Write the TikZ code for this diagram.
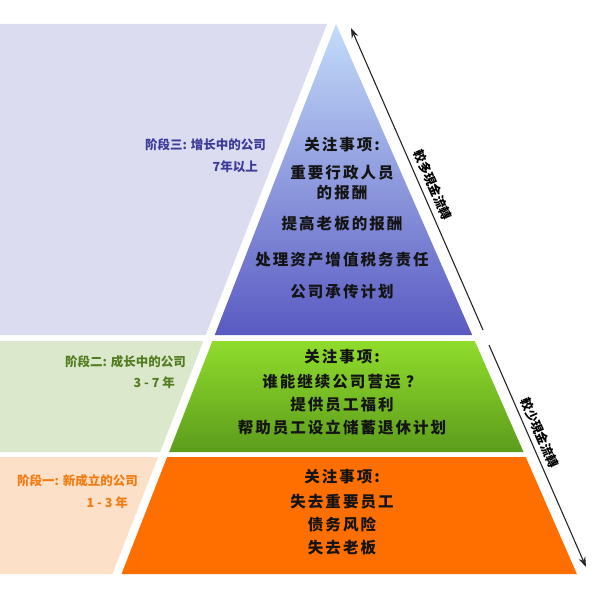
\documentclass[tikz,border=0pt]{standalone}
\usepackage{fontspec}
\usepackage{xcolor}
\usetikzlibrary{arrows.meta}
\newfontfamily\cjkband[LetterSpace=13]{Noto Sans CJK SC}
\newfontfamily\cjkstage{Noto Sans CJK SC}
\newfontfamily\cjkflow{Noto Sans CJK TC}

\definecolor{panelblue}{HTML}{DCDCF0}
\definecolor{panelgreen}{HTML}{DCE8CC}
\definecolor{panelorange}{HTML}{FDE0C8}
\definecolor{pyrblueTop}{HTML}{C4DCFA}
\definecolor{pyrblueMid}{HTML}{98AEE6}
\definecolor{pyrblueBot}{HTML}{5A5AC2}
\definecolor{pyrgreenTop}{HTML}{90DC2C}
\definecolor{pyrgreenBot}{HTML}{5C9C1C}
\definecolor{pyrorange}{HTML}{FF6F00}
\definecolor{stageblue}{HTML}{3B3B98}
\definecolor{stagegreen}{HTML}{537D22}
\definecolor{stageorange}{HTML}{F27C12}

\tikzset{
  bandtext/.style={font=\cjkband\bfseries\fontsize{15.5}{20}\selectfont, text=black!92, align=center, inner sep=0pt},
  stagelabel/.style={font=\cjkstage\bfseries\fontsize{12.5}{15}\selectfont, anchor=east, inner sep=0pt},
  flowlabel/.style={font=\cjkflow\bfseries\fontsize{12.5}{14}\selectfont, rotate=-66.4, inner sep=0pt},
  flowarrow/.style={-{Stealth[length=10pt,width=7pt]}, line width=1.1pt, black!85}
}

\begin{document}
\begin{tikzpicture}[x=1pt, y=-1pt]
  \useasboundingbox (0,0) rectangle (600,604);

  % stage panels on the left
  \fill[panelblue] (0,24) -- (327,24) -- (205.7,335) -- (0,335) -- cycle;
  \fill[panelgreen] (0,341) -- (203.4,341) -- (160.1,452) -- (0,452) -- cycle;
  \fill[panelorange] (0,457) -- (158.1,457) -- (112.5,574) -- (0,574) -- cycle;

  % pyramid
  \shade[top color=pyrblueTop, middle color=pyrblueMid, bottom color=pyrblueBot] (336,24) -- (472.2,335) -- (214.7,335) -- cycle;
  \shade[top color=pyrgreenTop, bottom color=pyrgreenBot] (212.4,341) -- (474.8,341) -- (523.5,452) -- (169.1,452) -- cycle;
  \fill[pyrorange] (167.1,457) -- (525.7,457) -- (576.9,574) -- (121.5,574) -- cycle;

  % cash flow arrows
  \coordinate (moreStart) at (483,330);
  \coordinate (moreEnd) at (351,28);
  \coordinate (lessStart) at (489,345);
  \coordinate (lessEnd) at (586,567);
  \draw[flowarrow] (moreStart) -- (moreEnd);
  \draw[flowarrow] (lessStart) -- (lessEnd);
  \node[flowlabel] (moreflow) at (433,185) {較多現金流轉};
  \node[flowlabel] (lessflow) at (540,433) {較少現金流轉};

  % stage labels
  \node[stagelabel, text=stageblue] (stagethree) at (266,145) {阶段三: 增长中的公司};
  \node[stagelabel, text=stageblue] (stagethreeyears) at (258,167) {7年以上};
  \node[stagelabel, text=stagegreen] (stagetwo) at (186,362) {阶段二: 成长中的公司};
  \node[stagelabel, text=stagegreen] (stagetwoyears) at (175,383) {3 - 7 年};
  \node[stagelabel, text=stageorange] (stageone) at (138,481) {阶段一: 新成立的公司};
  \node[stagelabel, text=stageorange] (stageoneyears) at (128,503) {1 - 3 年};

  % top band
  \node[bandtext] (bluehead) at (342,145) {关注事项:};
  \node[bandtext] (blueitemA) at (342,182.5) {重要行政人员\\的报酬};
  \node[bandtext] (blueitemB) at (342,224) {提高老板的报酬};
  \node[bandtext] (blueitemC) at (342,260) {处理资产增值税务责任};
  \node[bandtext] (blueitemD) at (342,292) {公司承传计划};

  % middle band
  \node[bandtext] (greenhead) at (342,357) {关注事项:};
  \node[bandtext] (greenitemA) at (342,382) {谁能继续公司营运 ？};
  \node[bandtext] (greenitemB) at (342,405) {提供员工福利};
  \node[bandtext] (greenitemC) at (342,428) {帮助员工设立储蓄退休计划};

  % bottom band
  \node[bandtext] (orangehead) at (342,477) {关注事项:};
  \node[bandtext] (orangeitemA) at (342,502) {失去重要员工};
  \node[bandtext] (orangeitemB) at (342,525) {债务风险};
  \node[bandtext] (orangeitemC) at (342,548) {失去老板};
\end{tikzpicture}
\end{document}
